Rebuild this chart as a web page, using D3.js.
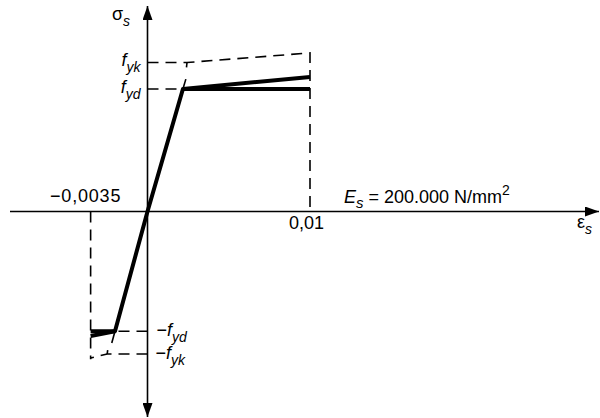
<!DOCTYPE html>
<html lang="de">
<head>
<meta charset="utf-8" />
<script src="https://cdn.jsdelivr.net/npm/d3@7"></script>
<style>
body { margin: 0; background: #fff; }
svg { display: block; }
.axis { stroke: #000; stroke-width: 1.6px; fill: none; }
.thick { stroke: #000; stroke-width: 4px; fill: none; stroke-linejoin: round; }
.thin { stroke: #000; stroke-width: 1.6px; fill: none; }
.dash { stroke: #000; stroke-width: 1.6px; fill: none; stroke-dasharray: 11 7; }
.lbl { font-family: "Liberation Sans", Arial, sans-serif; font-size: 18px; fill: #000; }
</style>
</head>
<body>
<script>
// strain (-) and stress (N/mm2)
var strainTicks = [-0.0035, 0.01];
var strainTickLabels = ["\u22120,0035", "0,01"];
var fyd = 435, fydNeg = -425, fyk = 529, fykNeg = -506;

// design curve: plateau, elastic branch, plateau
var designCurve = [[-0.0035, -425], [-0.002, -425], [0, 0], [0.00218, 435], [0.01, 435]];
var hardeningTop = [[0.00218, 435], [0.01, 478]];
var hardeningBottom = [[-0.002, -425], [-0.0035, -442]];
// short thin continuations of the elastic line
var elasticBits = [
  [[0.00218, 435], [0.00236, 470]],
  [[-0.002, -425], [-0.0022, -467]],
  [[0.0024, 512], [0.00243, 529]],
  [[-0.00245, -492], [-0.00248, -506]]
];
// dashed reference lines
var charTop = [[0, 529], [0.00243, 529], [0.01, 563], [0.01, 0]];
var charBottom = [[0, -506], [-0.00248, -506], [-0.0035, -520]];
var refLines = [
  [[0, 435], [0.00218, 435]],
  [[0, -425], [-0.002, -425]],
  [[-0.0035, 0], [-0.0035, -525]]
];

var width = 600, height = 418;

var x = d3.scaleLinear().domain([0, 0.01]).range([147.5, 310]);
var y = d3.scaleLinear().domain([0, 435]).range([211.5, 89]);

var svg = d3.select("body").append("svg")
    .attr("width", width)
    .attr("height", height);

var defs = svg.append("defs");
defs.append("marker")
    .attr("id", "arrow")
    .attr("viewBox", "0 0 14 10")
    .attr("refX", 14).attr("refY", 5)
    .attr("markerWidth", 14).attr("markerHeight", 10)
    .attr("markerUnits", "userSpaceOnUse")
    .attr("orient", "auto")
  .append("path")
    .attr("d", "M0,0L14,5L0,10Z")
    .attr("fill", "#000");

var line = d3.line()
    .x(function (d) { return x(d[0]); })
    .y(function (d) { return y(d[1]); });

// axes
svg.append("line").attr("class", "axis")
    .attr("x1", 10).attr("x2", 599)
    .attr("y1", y(0)).attr("y2", y(0))
    .attr("marker-end", "url(#arrow)");
svg.append("line").attr("class", "axis")
    .attr("x1", x(0)).attr("x2", x(0))
    .attr("y1", y(0)).attr("y2", 6)
    .attr("marker-end", "url(#arrow)");
svg.append("line").attr("class", "axis")
    .attr("x1", x(0)).attr("x2", x(0))
    .attr("y1", y(0)).attr("y2", 417)
    .attr("marker-end", "url(#arrow)");

// dashed
svg.append("path").attr("class", "dash").attr("d", line(charTop));
svg.append("path").attr("class", "dash").attr("d", line(charBottom));
refLines.forEach(function (r) {
    svg.append("path").attr("class", "dash").attr("d", line(r));
});

// solid
elasticBits.forEach(function (r) {
    svg.append("path").attr("class", "thin").attr("d", line(r));
});
svg.append("path").attr("class", "thick").attr("d", line(designCurve));
svg.append("path").attr("class", "thick").attr("d", line(hardeningTop));
svg.append("path").attr("class", "thick").attr("d", line(hardeningBottom));

// labels
function sub(t, main, subTxt, italicMain) {
    t.append("tspan").attr("font-style", italicMain ? "italic" : null).text(main);
    t.append("tspan").attr("font-style", "italic").attr("font-size", 14)
        .attr("dy", 6).text(subTxt);
    return t;
}

var sig = svg.append("text").attr("class", "lbl").attr("x", 112).attr("y", 20).attr("font-size", 20);
sub(sig, "\u03c3", "s", false);
var eps = svg.append("text").attr("class", "lbl").attr("x", 577).attr("y", 228).attr("font-size", 19);
sub(eps, "\u03b5", "s", false);

var fykT = svg.append("text").attr("class", "lbl").attr("text-anchor", "end")
    .attr("x", x(0) - 7).attr("y", y(fyk) + 3.5);
sub(fykT, "f", "yk", true);
var fydT = svg.append("text").attr("class", "lbl").attr("text-anchor", "end")
    .attr("x", x(0) - 7).attr("y", y(fyd) + 4);
sub(fydT, "f", "yd", true);

var nfyd = svg.append("text").attr("class", "lbl").attr("x", x(0) + 9).attr("y", y(fydNeg) + 5);
nfyd.append("tspan").text("\u2212");
sub(nfyd, "f", "yd", true);
var nfyk = svg.append("text").attr("class", "lbl").attr("x", x(0) + 8).attr("y", y(fykNeg) + 5);
nfyk.append("tspan").text("\u2212");
sub(nfyk, "f", "yk", true);

svg.selectAll(".tick-lbl")
    .data(strainTicks)
  .enter().append("text")
    .attr("class", "lbl tick-lbl")
    .attr("text-anchor", "middle")
    .attr("letter-spacing", function (d) { return d < 0 ? 0.8 : 0; })
    .attr("x", function (d) { return x(d) + (d < 0 ? -5 : -3.5); })
    .attr("y", function (d) { return d < 0 ? y(0) - 9.5 : y(0) + 17; })
    .text(function (d, i) { return strainTickLabels[i]; });

var es = svg.append("text").attr("class", "lbl").attr("font-size", 21)
    .attr("x", x(0.01) + 34).attr("y", y(0) - 8.5);
es.append("tspan").attr("font-style", "italic").text("E");
es.append("tspan").attr("font-style", "italic").attr("font-size", 15).attr("dy", 5).text("s");
es.append("tspan").attr("dy", -5).text(" = 200.000 N/mm");
es.append("tspan").attr("font-size", 14).attr("dy", -8).text("2");
</script>
</body>
</html>
